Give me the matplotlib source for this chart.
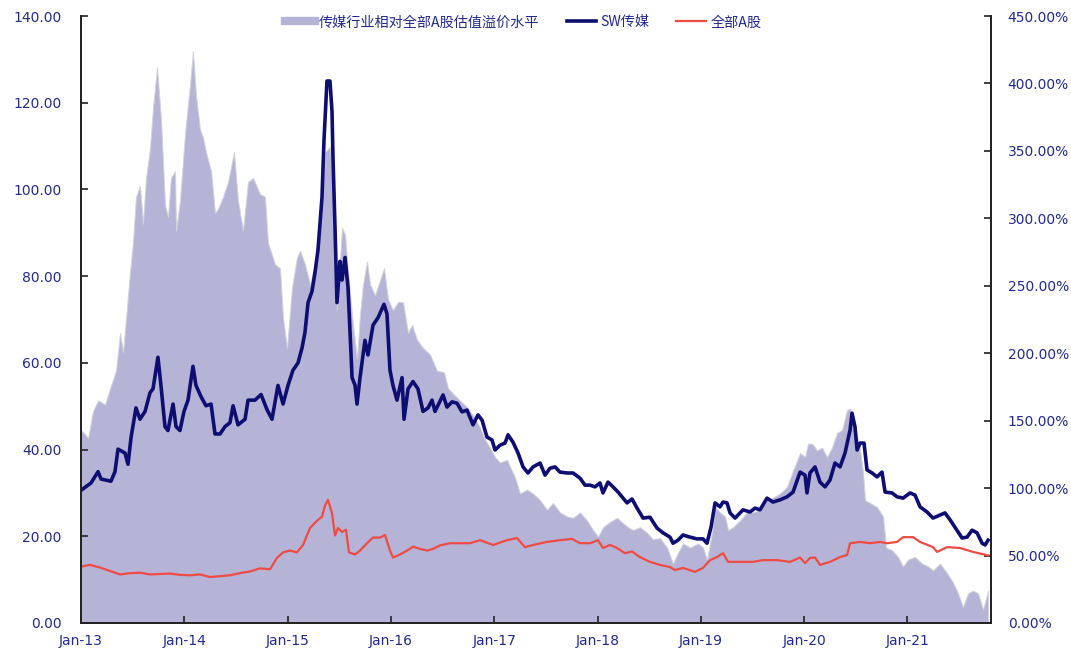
import matplotlib.pyplot as plt
from matplotlib.lines import Line2D
import numpy as np

plt.rcParams['font.family'] = ['Noto Sans CJK SC', 'DejaVu Sans']

# 时间用年份小数表示 (2013.0 = 2013年1月)
sw_t = [0.000, 0.097, 0.165, 0.194, 0.290, 0.329, 0.358, 0.426, 0.455, 0.484, 0.532, 0.571, 0.620, 0.668,
        0.697, 0.745, 0.774, 0.813, 0.842, 0.891, 0.920, 0.958, 0.997, 1.036, 1.084, 1.113, 1.162, 1.210,
        1.259, 1.297, 1.346, 1.394, 1.442, 1.472, 1.520, 1.588, 1.617, 1.684, 1.743, 1.801, 1.849, 1.907,
        1.956, 2.004, 2.052, 2.101, 2.140, 2.168, 2.198, 2.236, 2.265, 2.294, 2.333, 2.352, 2.381, 2.410,
        2.430, 2.439, 2.459, 2.478, 2.507, 2.527, 2.556, 2.585, 2.624, 2.653, 2.672, 2.701, 2.749, 2.778,
        2.827, 2.875, 2.933, 2.962, 2.991, 3.020, 3.059, 3.108, 3.127, 3.166, 3.214, 3.262, 3.311, 3.359,
        3.398, 3.427, 3.505, 3.543, 3.592, 3.640, 3.688, 3.737, 3.795, 3.843, 3.882, 3.930, 3.979, 4.008,
        4.056, 4.105, 4.134, 4.182, 4.231, 4.279, 4.327, 4.376, 4.444, 4.492, 4.540, 4.589, 4.637, 4.705,
        4.763, 4.831, 4.879, 4.928, 4.976, 5.024, 5.053, 5.102, 5.150, 5.199, 5.247, 5.286, 5.334, 5.383,
        5.441, 5.508, 5.576, 5.634, 5.702, 5.731, 5.779, 5.828, 5.896, 5.963, 6.021, 6.060, 6.099, 6.138,
        6.186, 6.215, 6.254, 6.283, 6.331, 6.409, 6.476, 6.525, 6.573, 6.641, 6.699, 6.767, 6.835, 6.893,
        6.961, 7.009, 7.028, 7.057, 7.106, 7.154, 7.203, 7.251, 7.299, 7.348, 7.396, 7.445, 7.464, 7.493,
        7.513, 7.542, 7.580, 7.609, 7.658, 7.706, 7.754, 7.784, 7.851, 7.900, 7.958, 8.026, 8.074, 8.122,
        8.190, 8.248, 8.316, 8.364, 8.413, 8.480, 8.529, 8.577, 8.626, 8.674, 8.723, 8.752, 8.781]
sw_media = [30.6, 32.3, 34.9, 33.2, 32.7, 34.9, 40.1, 39.2, 36.6, 42.7, 49.6, 47.0, 48.8, 53.1,
            54.0, 61.3, 54.8, 45.3, 44.4, 50.5, 45.3, 44.4, 48.8, 51.4, 59.2, 54.8, 52.2, 50.1,
            50.5, 43.6, 43.6, 45.3, 46.2, 50.1, 45.7, 47.0, 51.4, 51.4, 52.7, 49.2, 47.0, 54.8,
            50.5, 54.8, 58.3, 60.0, 63.5, 67.0, 73.9, 76.5, 80.8, 86.0, 98.2, 111.2, 125.0, 125.0,
            118.0, 107.7, 91.2, 73.9, 83.4, 79.1, 84.3, 77.4, 56.6, 54.8, 50.5, 56.6, 65.2, 61.8,
            68.7, 70.4, 73.5, 71.3, 58.3, 54.8, 51.4, 56.6, 47.0, 54.0, 55.7, 54.0, 48.8, 49.6,
            51.4, 48.8, 52.6, 49.8, 51.0, 50.7, 48.7, 49.1, 45.7, 48.0, 46.8, 42.9, 42.2, 39.9,
            41.0, 41.5, 43.4, 41.7, 39.2, 36.0, 34.6, 36.0, 36.9, 34.1, 35.7, 36.0, 34.8, 34.6,
            34.6, 33.4, 31.8, 31.8, 31.4, 32.3, 30.0, 32.5, 31.4, 30.2, 28.8, 27.7, 28.6, 26.5,
            24.2, 24.4, 21.9, 20.8, 19.8, 18.4, 19.1, 20.3, 19.8, 19.4, 19.4, 18.4, 22.1, 27.7,
            26.8, 27.9, 27.7, 25.4, 24.2, 26.1, 25.6, 26.5, 26.1, 28.8, 27.9, 28.4, 29.1, 30.2,
            34.8, 34.1, 30.0, 34.6, 36.0, 32.5, 31.4, 33.0, 36.9, 36.0, 39.2, 44.5, 48.4, 45.2,
            39.9, 41.5, 41.5, 35.3, 34.6, 33.7, 34.8, 30.2, 30.0, 29.1, 28.8, 30.0, 29.5, 26.8,
            25.6, 24.2, 24.9, 25.4, 23.8, 21.4, 19.6, 19.8, 21.4, 20.8, 18.4, 18.0, 19.1]

all_t = [0.000, 0.087, 0.184, 0.281, 0.378, 0.474, 0.571, 0.668, 0.765, 0.862, 0.958, 1.055, 1.152, 1.249,
         1.346, 1.442, 1.539, 1.636, 1.733, 1.830, 1.897, 1.956, 2.023, 2.091, 2.149, 2.217, 2.285, 2.333,
         2.362, 2.391, 2.430, 2.459, 2.488, 2.527, 2.565, 2.594, 2.653, 2.701, 2.769, 2.827, 2.894, 2.943,
         2.991, 3.020, 3.088, 3.156, 3.214, 3.282, 3.350, 3.408, 3.475, 3.572, 3.669, 3.766, 3.863, 3.989,
         4.124, 4.221, 4.298, 4.376, 4.511, 4.637, 4.753, 4.831, 4.928, 5.005, 5.053, 5.121, 5.189, 5.266,
         5.334, 5.411, 5.508, 5.605, 5.702, 5.750, 5.828, 5.944, 6.021, 6.089, 6.157, 6.215, 6.264, 6.380,
         6.506, 6.603, 6.738, 6.864, 6.961, 7.009, 7.057, 7.106, 7.154, 7.251, 7.348, 7.416, 7.445, 7.542,
         7.638, 7.735, 7.803, 7.900, 7.958, 8.055, 8.122, 8.248, 8.287, 8.384, 8.509, 8.635, 8.781]
all_a = [13.0, 13.4, 12.8, 12.0, 11.2, 11.5, 11.6, 11.2, 11.3, 11.4, 11.1, 11.0, 11.2, 10.6,
         10.8, 11.0, 11.5, 11.9, 12.6, 12.4, 15.0, 16.3, 16.7, 16.3, 18.0, 21.9, 23.6, 24.5,
         27.1, 28.4, 25.3, 20.2, 21.9, 21.0, 21.5, 16.3, 15.8, 16.7, 18.4, 19.7, 19.7, 20.3,
         16.7, 15.1, 15.8, 16.7, 17.6, 17.1, 16.7, 17.1, 17.9, 18.4, 18.4, 18.4, 19.1, 18.0,
         19.1, 19.6, 17.5, 18.0, 18.7, 19.1, 19.4, 18.4, 18.4, 19.1, 17.3, 18.0, 17.3, 16.1,
         16.5, 15.2, 14.1, 13.4, 12.9, 12.2, 12.7, 11.8, 12.7, 14.5, 15.2, 16.1, 14.1, 14.1,
         14.1, 14.5, 14.5, 14.1, 15.1, 13.8, 15.0, 15.1, 13.4, 14.1, 15.2, 15.7, 18.4, 18.7,
         18.4, 18.7, 18.4, 18.7, 19.8, 19.8, 18.7, 17.5, 16.4, 17.5, 17.3, 16.4, 15.6]

prem_t = [0.000, 0.039, 0.068, 0.116, 0.165, 0.232, 0.290, 0.339, 0.378, 0.407, 0.436, 0.474, 0.503, 0.532,
          0.571, 0.600, 0.629, 0.668, 0.697, 0.736, 0.774, 0.813, 0.842, 0.871, 0.910, 0.920, 0.958, 1.007,
          1.055, 1.084, 1.113, 1.152, 1.181, 1.210, 1.259, 1.297, 1.326, 1.375, 1.423, 1.481, 1.520, 1.568,
          1.617, 1.665, 1.733, 1.781, 1.810, 1.878, 1.926, 1.956, 1.994, 2.043, 2.091, 2.120, 2.168, 2.217,
          2.265, 2.314, 2.362, 2.410, 2.439, 2.478, 2.527, 2.556, 2.585, 2.633, 2.672, 2.701, 2.730, 2.769,
          2.798, 2.846, 2.894, 2.933, 2.972, 3.020, 3.069, 3.117, 3.166, 3.204, 3.253, 3.311, 3.379, 3.446,
          3.514, 3.553, 3.601, 3.669, 3.737, 3.795, 3.863, 3.911, 3.960, 4.008, 4.056, 4.124, 4.153, 4.201,
          4.250, 4.318, 4.376, 4.444, 4.511, 4.569, 4.637, 4.705, 4.763, 4.831, 4.899, 4.957, 5.005, 5.053,
          5.121, 5.189, 5.247, 5.296, 5.344, 5.411, 5.479, 5.538, 5.605, 5.673, 5.731, 5.779, 5.828, 5.896,
          5.973, 6.021, 6.060, 6.109, 6.138, 6.186, 6.234, 6.264, 6.312, 6.380, 6.447, 6.506, 6.573, 6.641,
          6.699, 6.767, 6.835, 6.893, 6.961, 7.009, 7.038, 7.077, 7.125, 7.174, 7.222, 7.270, 7.319, 7.367,
          7.416, 7.445, 7.493, 7.542, 7.571, 7.590, 7.638, 7.706, 7.764, 7.793, 7.851, 7.909, 7.958, 8.006,
          8.074, 8.142, 8.200, 8.248, 8.316, 8.384, 8.442, 8.490, 8.538, 8.587, 8.635, 8.684, 8.732, 8.781]
premium = [143, 140, 137, 157, 165, 162, 176, 187, 215, 201, 226, 260, 282, 316,
           324, 296, 330, 352, 382, 412, 374, 310, 301, 330, 335, 291, 313, 363,
           399, 424, 391, 366, 360, 349, 335, 304, 307, 316, 327, 349, 313, 291,
           327, 330, 318, 316, 282, 266, 263, 226, 204, 249, 271, 276, 266, 251,
           266, 304, 349, 353, 327, 232, 293, 288, 260, 221, 196, 229, 251, 268,
           251, 243, 254, 263, 240, 232, 238, 238, 215, 221, 210, 204, 199, 187,
           186, 174, 170, 165, 160, 154, 145, 136, 130, 123, 119, 121, 116, 108,
           96, 99, 96, 91, 84, 89, 82, 79, 78, 82, 76, 69, 64, 71,
           75, 78, 74, 71, 69, 71, 67, 62, 63, 56, 44, 52, 59, 56,
           59, 56, 47, 67, 86, 82, 79, 69, 71, 76, 82, 82, 84, 91,
           93, 96, 101, 113, 126, 123, 133, 133, 128, 130, 123, 130, 141, 143,
           158, 159, 145, 128, 111, 91, 89, 86, 79, 56, 54, 49, 42, 47,
           49, 44, 42, 39, 44, 37, 30, 22, 12, 22, 24, 22, 10, 24]

years = [2013, 2014, 2015, 2016, 2017, 2018, 2019, 2020, 2021]
year_labels = ['Jan-13', 'Jan-14', 'Jan-15', 'Jan-16', 'Jan-17', 'Jan-18', 'Jan-19', 'Jan-20', 'Jan-21']

navy = '#0e0e72'
red = '#ef4b44'
area_c = '#b6b4d6'
label_c = '#222a8c'

fig = plt.figure(figsize=(10.71, 6.49), dpi=100)
ax = fig.add_axes([81 / 1071, 1 - 623 / 649, 910 / 1071, 607 / 649])
ax2 = ax.twinx()

ax2.fill_between(2013 + np.array(prem_t), premium, 0, color=area_c, lw=0.7, edgecolor='#d3d3da',
                 label='传媒行业相对全部A股估值溢价水平')
ax.plot(2013 + np.array(sw_t), sw_media, color=navy, lw=2.6, label='SW传媒')
ax.plot(2013 + np.array(all_t), all_a, color=red, lw=1.6, label='全部A股')

ax.set_zorder(ax2.get_zorder() + 1)
ax.patch.set_visible(False)

ax.set_xlim(2013, 2013 + 910 / 103.3)
ax.set_ylim(0, 140)
ax2.set_ylim(0, 450)
ax.set_yticks(np.arange(0, 141, 20))
ax.set_yticklabels(['%.2f' % v for v in np.arange(0, 141, 20)])
ax2.set_yticks(np.arange(0, 451, 50))
ax2.set_yticklabels(['%.2f%%' % v for v in np.arange(0, 451, 50)])
ax.set_xticks(years)
ax.set_xticklabels(year_labels)

for a in (ax, ax2):
    a.spines['top'].set_visible(False)
    for s in ('left', 'right', 'bottom'):
        a.spines[s].set_linewidth(1.3)
        a.spines[s].set_color('#222222')
    a.tick_params(direction='in', length=5, width=1.2, colors='#222222', labelcolor=label_c, labelsize=10)
    for lab in a.get_xticklabels() + a.get_yticklabels():
        lab.set_family('DejaVu Sans')
ax.tick_params(axis='y', pad=14)
ax.tick_params(axis='x', pad=8)
ax2.tick_params(axis='y', pad=12)

h2, l2 = ax.get_legend_handles_labels()
area_handle = Line2D([], [], color=area_c, lw=6)
leg = ax.legend([area_handle] + h2, ['传媒行业相对全部A股估值溢价水平'] + l2, loc='upper center',
                bbox_to_anchor=(0.486, 1.001), ncol=3, frameon=False, fontsize=10.2, handlelength=2.1,
                columnspacing=1.9, handletextpad=0.3, borderaxespad=0, borderpad=0)
for t in leg.get_texts():
    t.set_color(label_c)

fig.savefig('out.png', dpi=100)
